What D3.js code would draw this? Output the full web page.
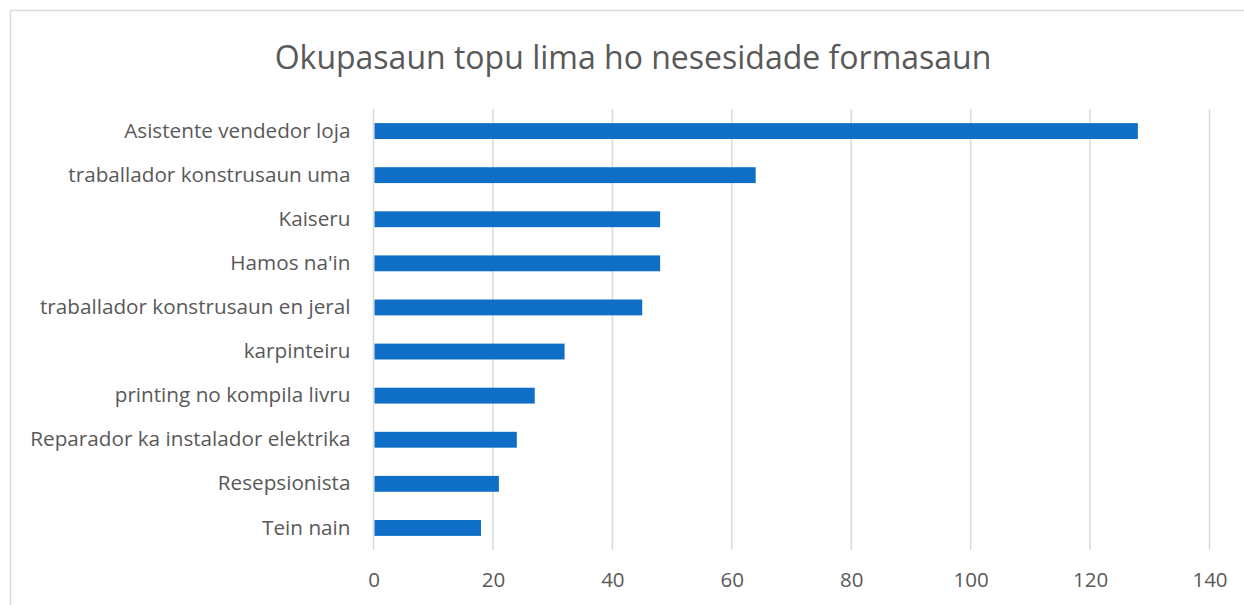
<!DOCTYPE html>
<html>
<head>
<meta charset="utf-8">
<script src="https://cdn.jsdelivr.net/npm/d3@7"></script>
<style>
  body { margin: 0; background: #fff; }
  svg { display: block; font-family: "Open Sans", Lato, sans-serif; }
</style>
</head>
<body>
<svg id="chart"></svg>
<script>
const categories = [
  "Asistente vendedor loja",
  "traballador konstrusaun uma",
  "Kaiseru",
  "Hamos na'in",
  "traballador konstrusaun en jeral",
  "karpinteiru",
  "printing no kompila livru",
  "Reparador ka instalador elektrika",
  "Resepsionista",
  "Tein nain"
];
const values = [128, 64, 48, 48, 45, 32, 27, 24, 21, 18];
const xTicks = [0, 20, 40, 60, 80, 100, 120, 140];
const title = "Okupasaun topu lima ho nesesidade formasaun";

const W = 1244, H = 605;
const plot = { left: 373.5, right: 1209.5, top: 109, bottom: 550 };
const font = "'Open Sans', Lato, sans-serif";

const svg = d3.select("#chart").attr("width", W).attr("height", H);

// outer chart border
svg.append("rect")
  .attr("x", 10.5).attr("y", 10.5)
  .attr("width", W).attr("height", H)
  .attr("fill", "none")
  .attr("stroke", "#d9d9d9")
  .attr("stroke-width", 1.5);

const x = d3.scaleLinear().domain([0, 140]).range([plot.left, plot.right]);
const y = d3.scaleBand().domain(categories).range([plot.top, plot.bottom]).paddingInner(0.64).paddingOuter(0.32);

// title
svg.append("text")
  .attr("x", 633).attr("y", 69)
  .attr("text-anchor", "middle")
  .attr("fill", "#595959")
  .style("font-size", "32px")
  .text(title);

// gridlines
svg.append("g")
  .selectAll("line")
  .data(xTicks)
  .join("line")
  .attr("x1", d => x(d)).attr("x2", d => x(d))
  .attr("y1", plot.top).attr("y2", plot.bottom)
  .attr("stroke", "#d9d9d9")
  .attr("stroke-width", 1.5);

// bars
svg.append("g")
  .selectAll("rect")
  .data(values)
  .join("rect")
  .attr("x", x(0) + 1)
  .attr("y", (d, i) => y(categories[i]))
  .attr("width", d => x(d) - x(0) - 1)
  .attr("height", y.bandwidth())
  .attr("fill", "#0f6fc6");

// x axis
const xAxis = svg.append("g")
  .attr("transform", `translate(0, ${plot.bottom})`)
  .call(d3.axisBottom(x).tickValues(xTicks).tickSize(0).tickPadding(22));
xAxis.select(".domain").remove();
xAxis.selectAll("text")
  .attr("fill", "#595959")
  .style("font-size", "20.5px")
  .style("font-family", font);

// y axis
const yAxis = svg.append("g")
  .attr("transform", `translate(${plot.left}, 0)`)
  .call(d3.axisLeft(y).tickSize(0).tickPadding(23));
yAxis.select(".domain").remove();
yAxis.selectAll("text")
  .attr("fill", "#595959")
  .style("font-size", "20.7px")
  .style("font-family", font);
</script>
</body>
</html>
